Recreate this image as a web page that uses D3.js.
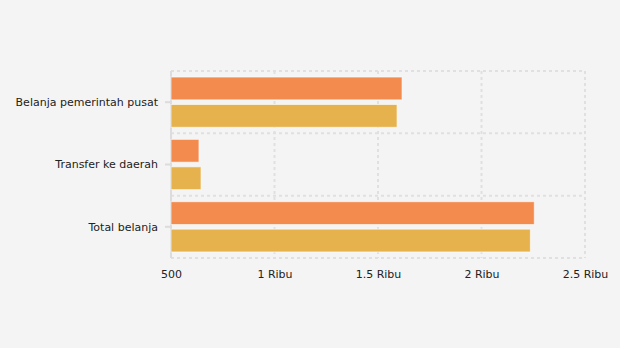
<!DOCTYPE html>
<html><head><meta charset="utf-8">
<script src="https://cdn.jsdelivr.net/npm/d3@7"></script>
<style>
html,body{margin:0;padding:0;background:#f4f4f4;}
svg{display:block;font-family:"DejaVu Sans",Verdana,sans-serif;}
</style></head>
<body>
<svg id="chart" width="620" height="348"></svg>
<script>
const categories = ["Belanja pemerintah pusat", "Transfer ke daerah", "Total belanja"];
const seriesNames = ["Seri A", "Seri B"];
const seriesA = [1616, 635, 2255];
const seriesB = [1592, 645, 2236];
const xTicks = [500, 1000, 1500, 2000, 2500];
const xTickLabels = ["500", "1 Ribu", "1.5 Ribu", "2 Ribu", "2.5 Ribu"];
const colors = ["#f38b4e", "#e6b24e"];

(function(){
const svg = d3.select("#chart");
svg.append("rect").attr("width",620).attr("height",348).attr("fill","#f4f4f4");
const mLeft = 171, mRight = 585, mTop = 71, mBottom = 258;
const gridColor = "#e0e0e0";

const x = d3.scaleLinear().domain([500, 2500]).range([mLeft, mRight]);
const y = d3.scaleBand().domain(categories).range([mTop, mBottom]).paddingInner(0).paddingOuter(0);
const y1 = d3.scaleBand().domain(seriesNames).range([0, y.bandwidth()]).paddingInner(0.17).paddingOuter(0.22);

const grid = svg.append("g");
xTicks.slice(1).forEach(t => {
  grid.append("line").attr("x1", x(t)).attr("x2", x(t)).attr("y1", mTop).attr("y2", mBottom)
    .attr("stroke", gridColor).attr("stroke-width", 2).attr("stroke-dasharray", "3,3");
});
const bounds = categories.map(c => y(c)).concat([mBottom]);
bounds.forEach(b => {
  grid.append("line").attr("x1", mLeft).attr("x2", mRight).attr("y1", b).attr("y2", b)
    .attr("stroke", gridColor).attr("stroke-width", 2).attr("stroke-dasharray", "3,3");
});
grid.append("line").attr("x1", mLeft).attr("x2", mLeft).attr("y1", mTop).attr("y2", mBottom)
  .attr("stroke", "#dcdcdc").attr("stroke-width", 2);

categories.forEach(c => {
  const cy = y(c) + y.bandwidth()/2;
  svg.append("line").attr("x1", mLeft-6).attr("x2", mLeft).attr("y1", cy).attr("y2", cy)
    .attr("stroke", "#dcdcdc").attr("stroke-width", 2);
  svg.append("text").attr("x", 158).attr("y", cy).attr("dy", "0.35em")
    .attr("text-anchor", "end").attr("font-size", 11).attr("fill", "#222").text(c);
});

const data = categories.map((c, i) => ({cat: c, vals: [seriesA[i], seriesB[i]]}));
const groups = svg.append("g").selectAll("g").data(data).join("g")
  .attr("transform", d => `translate(0,${y(d.cat)})`);
groups.selectAll("rect").data(d => d.vals.map((v, j) => ({v, s: seriesNames[j], j})))
  .join("rect")
  .attr("x", x(500))
  .attr("y", d => y1(d.s))
  .attr("width", d => x(d.v) - x(500))
  .attr("height", y1.bandwidth())
  .attr("fill", d => colors[d.j])
  .attr("stroke", "rgba(255,255,255,0.6)")
  .attr("stroke-width", 1);

const xAxis = d3.axisBottom(x).tickValues(xTicks).tickFormat((d, i) => xTickLabels[i]).tickSize(0).tickPadding(12);
const ax = svg.append("g").attr("transform", `translate(0,${mBottom})`).call(xAxis);
ax.select(".domain").remove();
ax.selectAll("text").attr("font-size", 11).attr("fill", "#222").attr("font-family", "DejaVu Sans, Verdana, sans-serif");
})();
</script>
</body></html>
